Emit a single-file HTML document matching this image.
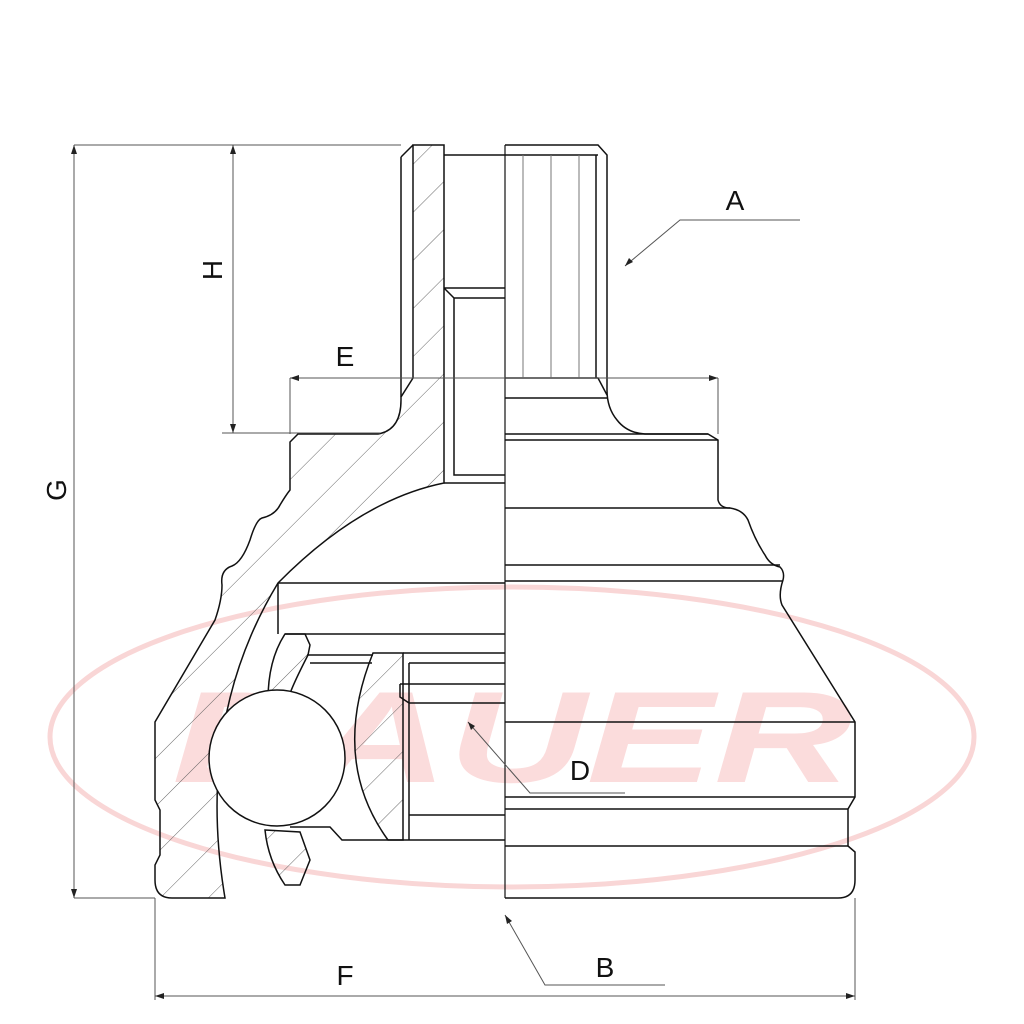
<!DOCTYPE html>
<html><head><meta charset="utf-8"><style>
html,body{margin:0;padding:0;background:#fff;}
svg{display:block;}
text{font-family:"Liberation Sans",sans-serif;}
</style></head><body>
<svg width="1024" height="1024" viewBox="0 0 1024 1024" xmlns="http://www.w3.org/2000/svg">
<defs>
<pattern id="h" patternUnits="userSpaceOnUse" width="34" height="34" patternTransform="rotate(45)">
<line x1="0" y1="0" x2="0" y2="34" stroke="#555" stroke-width="0.9"/>
</pattern>
</defs>
<!-- watermark -->
<ellipse cx="512" cy="737" rx="462" ry="150" fill="none" stroke="#f9d6d6" stroke-width="5"/>
<text x="512" y="782" text-anchor="middle" font-size="130" font-weight="bold" font-style="italic" fill="#fbdcdc" textLength="680" lengthAdjust="spacingAndGlyphs" style="font-family:'Liberation Sans',sans-serif">DAUER</text>

<g fill="none" stroke="#111" stroke-width="1.5">
<!-- hatched shaft band + housing -->
<path d="M413,145 L444,145 L444,483 Q360,500 278,583 Q195,720 225,898 L172,898 Q155,898 155,880 L155,865 L160,855 L160,810 L155,800 L155,722 L215,620 Q222,600 222,585 Q220,570 232,566 Q242,562 250,540 Q256,520 262,518 Q275,515 280,505 Q286,495 290,490 L290,442 L298,434 L378,434 Q401,430 401,400 L401,397 L413,378 Z" fill="url(#h)"/>
<path d="M401,157 L413,145 M401,157 L401,397"/>
<!-- shaft inner -->
<path d="M444,155 L505,155 M444,288 L505,288 M444,288 L454,298 L505,298 M454,298 L454,475 L505,475 M444,483 L505,483"/>
<!-- chamber -->
<path d="M278,583 L505,583 M278,583 L278,634 M285,634 L505,634"/>
<!-- cage pieces -->
<path d="M285,634 L305,634 L310,645 L308,655 Q290,690 288,700 Q275,690 268,700 Q268,660 285,634 Z" fill="url(#h)"/>
<path d="M307,655 L373,655 M310,663 L372,663"/>
<path d="M265,830 L300,832 L310,860 L300,885 L285,885 Q268,860 265,830 Z" fill="url(#h)"/>
<path d="M290,827 L330,827 L342,840 L505,840"/>
<!-- inner race -->
<path d="M373,653 L403,653 L403,840 L388,840 Q330,760 373,653 Z" fill="url(#h)"/>
<path d="M403,653 L505,653 M409,663 L505,663 M409,663 L409,840 M400,684 L505,684 M400,684 L400,697 L409,703 L505,703 M409,815 L505,815"/>
<circle cx="277" cy="758" r="68" fill="#fff"/>
<!-- center line -->
<path d="M505,145 L505,898" stroke-width="1.2"/>
<!-- right outline -->
<path d="M505,145 L598,145 L607,155 L607,390 Q607,408 617,420 Q627,433 645,434 L708,434 L718,440 L718,500 Q720,508 730,508 Q743,510 748,520 Q755,540 765,555 Q770,565 780,567 Q785,572 783,580 Q778,595 782,605 L855,722 L855,797 L848,809 L848,846 L855,852 L855,880 Q855,898 838,898 L505,898"/>
<path d="M505,155 L598,155 M596,155 L596,378 M505,378 L598,378 L607,395 M505,398 L607,398 M505,434 L708,434 M505,440 L718,440 M505,508 L730,508 M505,565 L780,565 M505,581 L783,581 M505,722 L855,722 M505,797 L855,797 M505,809 L848,809 M505,846 L848,846"/>
<path d="M523,155 V378 M551,155 V378 M579,155 V378" stroke="#777" stroke-width="1"/>
</g>

<!-- dimensions -->
<g stroke="#555" stroke-width="1" fill="none">
<path d="M74,145 L401,145 M74,145 V898 M74,898 L155,898"/>
<path d="M233,145 V433 M222,433 L380,433"/>
<path d="M290,378 L718,378 M290,378 V434 M718,378 V434"/>
<path d="M155,898 V1000 M855,898 V1000 M155,996 L855,996"/>
<path d="M625,266 L680,220 L800,220"/>
<path d="M468,722 L530,793 L625,793"/>
<path d="M505,915 L545,985 L665,985"/>
</g>
<g fill="#222">
<path d="M74,145 l-3,9 h6z M74,898 l-3,-9 h6z M233,145 l-3,9 h6z M233,433 l-3,-9 h6z M290,378 l9,-3 v6z M718,378 l-9,-3 v6z M155,996 l9,-3 v6z M855,996 l-9,-3 v6z"/>
<path d="M625,266 l4,-8 l4,4z M468,722 l3,8 l4,-4z M505,915 l2,9 l5,-3z"/>
</g>
<g font-size="28" fill="#111">
<text x="735" y="210" text-anchor="middle">A</text>
<text x="580" y="780" text-anchor="middle">D</text>
<text x="605" y="977" text-anchor="middle">B</text>
<text x="345" y="985" text-anchor="middle">F</text>
<text x="345" y="366" text-anchor="middle">E</text>
<text transform="translate(222,270) rotate(-90)" text-anchor="middle">H</text>
<text transform="translate(66,490) rotate(-90)" text-anchor="middle">G</text>
</g>
</svg>
</body></html>
